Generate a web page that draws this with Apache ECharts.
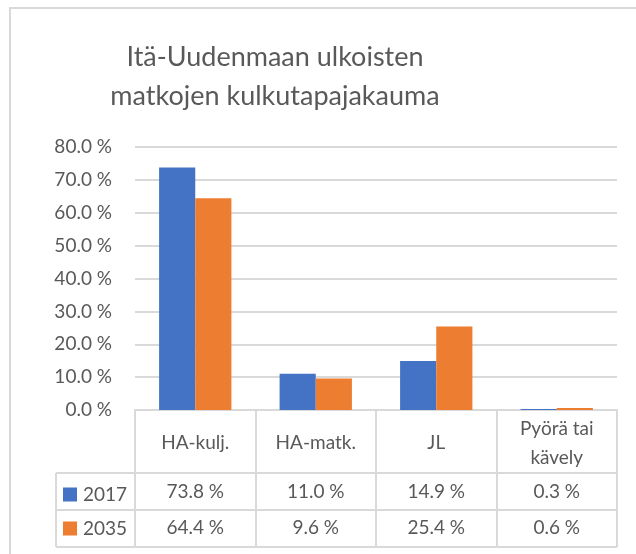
<!DOCTYPE html>
<html>
<head>
<meta charset="utf-8">
<script src="https://cdn.jsdelivr.net/npm/echarts@6/dist/echarts.min.js"></script>
<style>
  html, body { margin: 0; padding: 0; background: #fff; }
  #chart { width: 636px; height: 554px; }
</style>
</head>
<body>
<div id="chart"></div>
<script>
// Travel mode shares of external trips, eastern Uusimaa
const categories = ['HA-kulj.', 'HA-matk.', 'JL', 'Pyörä tai\nkävely'];
const years = ['2017', '2035'];
const share2017 = [73.8, 11.0, 14.9, 0.3];
const share2035 = [64.4, 9.6, 25.4, 0.6];
const yTicks = { min: 0, max: 80, interval: 10 };

const TEXT = '#595959';
const LINE = '#d9d9d9';
const FONT = 'Lato, "Open Sans", sans-serif';

// table geometry (below the plot)
const GRID_L = 135, GRID_R = 617, AXIS_Y = 410;
const ROW_HEAD = 473, ROW_1 = 510, ROW_2 = 547, KEY_L = 56;

const pct = v => v.toFixed(1) + ' %';

const chart = echarts.init(document.getElementById('chart'), null, { renderer: 'canvas' });

function hLine(y, x1, x2) {
  return { type: 'line', shape: { x1: x1, y1: y, x2: x2, y2: y }, style: { stroke: LINE, lineWidth: 2 }, silent: true };
}
function vLine(x, y1, y2) {
  return { type: 'line', shape: { x1: x, y1: y1, x2: x, y2: y2 }, style: { stroke: LINE, lineWidth: 2 }, silent: true };
}

const valueAxis = (offset, values) => ({
  type: 'category',
  data: categories,
  position: 'bottom',
  offset: offset,
  axisLine: { show: false },
  axisTick: { show: false },
  axisLabel: {
    interval: 0,
    margin: 0,
    verticalAlign: 'middle',
    color: TEXT,
    fontFamily: FONT,
    fontSize: 19,
    formatter: (v, i) => pct(values[i])
  }
});

chart.setOption({
  animation: false,
  backgroundColor: '#fff',
  title: {
    text: 'Itä-Uudenmaan ulkoisten\nmatkojen kulkutapajakauma',
    left: 270,
    top: 33,
    textAlign: 'center',
    textStyle: { color: TEXT, fontFamily: FONT, fontWeight: 'normal', fontSize: 27, lineHeight: 39 }
  },
  legend: {
    data: years,
    orient: 'vertical',
    left: 63,
    top: 485,
    itemWidth: 14,
    itemHeight: 14,
    itemGap: 15,
    icon: 'rect',
    textStyle: { color: TEXT, fontFamily: FONT, fontSize: 19, padding: [0, 0, 0, 1] },
    padding: 0
  },
  grid: { left: GRID_L, right: 636 - GRID_R, top: 147, bottom: 554 - AXIS_Y, containLabel: false },
  xAxis: [
    {
      type: 'category',
      data: categories,
      axisLine: { show: true, lineStyle: { color: LINE, width: 2 } },
      axisTick: { show: true, interval: 0, length: ROW_2 - AXIS_Y, lineStyle: { color: LINE, width: 2 } },
      axisLabel: {
        interval: 0,
        margin: 33,
        verticalAlign: 'middle',
        color: TEXT,
        fontFamily: FONT,
        fontSize: 19,
        lineHeight: 29
      }
    },
    valueAxis(ROW_HEAD - AXIS_Y + 19, share2017),
    valueAxis(ROW_1 - AXIS_Y + 18, share2035)
  ],
  yAxis: {
    type: 'value',
    min: yTicks.min,
    max: yTicks.max,
    interval: yTicks.interval,
    axisLine: { show: false },
    axisTick: { show: false },
    splitLine: { lineStyle: { color: LINE, width: 2 } },
    axisLabel: { margin: 23, color: TEXT, fontFamily: FONT, fontSize: 19, formatter: v => pct(v) }
  },
  series: [
    { name: years[0], type: 'bar', data: share2017, barGap: '0%', barCategoryGap: '40%',
      itemStyle: { color: '#4472C4' } },
    { name: years[1], type: 'bar', data: share2035, barGap: '0%', barCategoryGap: '40%',
      itemStyle: { color: '#ED7D31' } }
  ],
  graphic: [
    // outer chart frame
    { type: 'rect', shape: { x: 10, y: 8, width: 700, height: 700 }, style: { fill: null, stroke: LINE, lineWidth: 2 }, silent: true },
    // data table rules
    hLine(ROW_HEAD, KEY_L, GRID_R),
    hLine(ROW_1, KEY_L, GRID_R),
    hLine(ROW_2, KEY_L, GRID_R),
    vLine(KEY_L, ROW_HEAD, ROW_2)
  ]
});
</script>
</body>
</html>
